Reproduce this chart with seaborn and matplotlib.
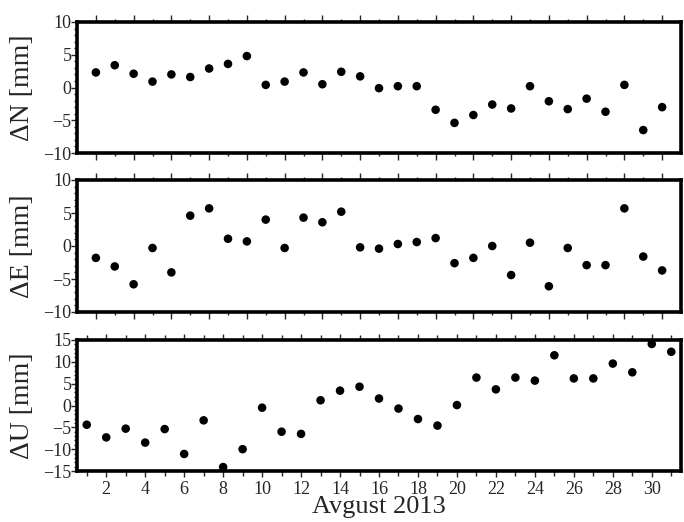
import matplotlib
matplotlib.use("Agg")
import matplotlib.pyplot as plt
import numpy as np
import pandas as pd
import seaborn as sns
from matplotlib.ticker import MultipleLocator

days = list(range(1, 32))
dN = [2.3, 3.4, 2.1, 0.9, 2.0, 1.6, 2.9, 3.6, 4.8, 0.4, 0.9, 2.3, 0.5, 2.4,
      1.7, -0.1, 0.2, 0.2, -3.4, -5.4, -4.2, -2.6, -3.2, 0.2, -2.1, -3.3,
      -1.7, -3.7, 0.4, -6.5, -3.0]
dE = [-1.8, -3.1, -5.8, -0.3, -4.0, 4.6, 5.7, 1.1, 0.7, 4.0, -0.3, 4.3, 3.6,
      5.2, -0.2, -0.4, 0.3, 0.6, 1.2, -2.6, -1.8, 0.0, -4.4, 0.5, -6.1, -0.3,
      -2.9, -2.9, 5.7, -1.6, -3.7]
dU = [-4.4, -7.3, -5.3, -8.5, -5.4, -11.1, -3.4, -14.1, -10.0, -0.5, -6.0,
      -6.5, 1.2, 3.4, 4.3, 1.6, -0.7, -3.1, -4.6, 0.1, 6.4, 3.7, 6.4, 5.7,
      11.5, 6.2, 6.2, 9.6, 7.6, 14.1, 12.3]
ylabels = ["ΔN [mm]", "ΔE [mm]", "ΔU [mm]"]
xlabel = "Avgust 2013"

df = pd.DataFrame({"day": days, "dN": dN, "dE": dE, "dU": dU})

sns.set_style("ticks")
plt.rcParams["font.family"] = ["Liberation Serif", "DejaVu Serif"]

W, H = 684, 522
fig = plt.figure(figsize=(W / 100, H / 100), dpi=100)

def rect(top, bottom, left=77, right=681):
    return [left / W, 1 - bottom / H, (right - left) / W, (bottom - top) / H]

axN = fig.add_axes(rect(22, 153))
axE = fig.add_axes(rect(180, 312))
axU = fig.add_axes(rect(340, 471))

for ax, col, lab in zip([axN, axE, axU], ["dN", "dE", "dU"], ylabels):
    sns.scatterplot(data=df, x="day", y=col, ax=ax, color="black", s=38,
                    edgecolor="none", linewidth=0, zorder=3, legend=False)
    for sp in ax.spines.values():
        sp.set_visible(True)
        sp.set_color("black")
        sp.set_linewidth(2.6)
    ax.set_ylabel(lab, fontsize=20)
    ax.yaxis.set_label_coords(-0.07, 0.5)
    ax.set_xlabel("")
    ax.tick_params(axis="y", which="major", direction="out", length=4,
                   width=1, labelsize=13, pad=0, right=False, left=True)
    ax.tick_params(axis="y", which="minor", direction="out", length=2.5,
                   width=1, right=False, left=True)
    ax.set_facecolor("white")

for ax in [axN, axE]:
    ax.set_xlim(0, 32)
    ax.set_ylim(-10, 10)
    ax.yaxis.set_major_locator(MultipleLocator(5))
    ax.yaxis.set_minor_locator(MultipleLocator(1))
    ax.set_xticks(days[0::2])
    ax.set_xticks(days[1::2], minor=True)
    ax.tick_params(axis="x", which="major", direction="out", length=5,
                   width=1, top=True, bottom=True, labelbottom=False)
    ax.tick_params(axis="x", which="minor", direction="out", length=2.5,
                   width=1, top=True, bottom=True)

axU.set_xlim(0.5, 31.5)
axU.set_ylim(-15, 15)
axU.yaxis.set_major_locator(MultipleLocator(5))
axU.yaxis.set_minor_locator(MultipleLocator(1))
axU.set_xticks(days[1::2])
axU.set_xticks(days[0::2], minor=True)
axU.tick_params(axis="x", which="major", direction="out", length=4,
                width=1, top=True, bottom=True, labelsize=13, pad=3)
axU.tick_params(axis="x", which="minor", direction="out", length=3.5,
                width=1, top=True, bottom=True)
axU.set_xlabel(xlabel, fontsize=19, labelpad=-1)

fig.savefig("out.png", dpi=100, facecolor="white")
